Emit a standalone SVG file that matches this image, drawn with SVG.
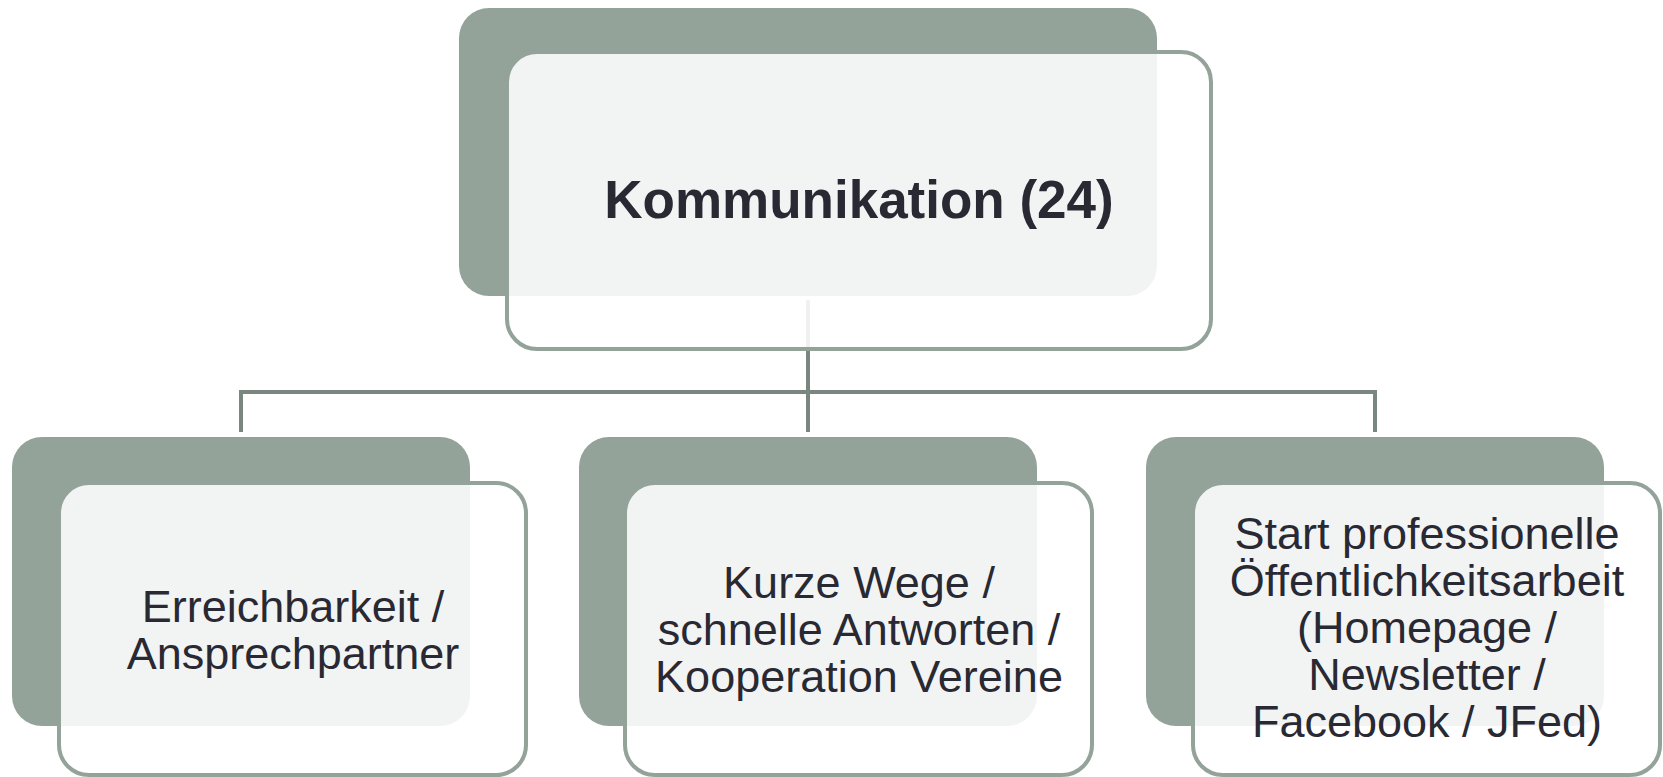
<svg xmlns="http://www.w3.org/2000/svg" width="1663" height="777" viewBox="0 0 1663 777">
<style>
.back{fill:#93A399;}
.front{fill:#FFFFFF;fill-opacity:0.88;stroke:#93A399;stroke-width:4;}
.conn{fill:none;stroke:#7A8680;stroke-width:4;}
.t{font-family:"Liberation Sans",Arial,sans-serif;fill:#292934;text-anchor:middle;}
.title{font-size:53px;font-weight:bold;}
.sub{font-size:45px;}
</style>
<rect width="1663" height="777" fill="#FFFFFF"/>
<g id="connectors">
<path class="conn" d="M808,300 V392 M241,432 V392 H1375 V432 M808,392 V432"/>
</g>
<g id="node-root">
<rect class="back" x="459" y="8" width="698" height="288" rx="30"/>
<rect class="front" x="507" y="52" width="704" height="297" rx="30"/>
<text class="t title" x="859" y="218">Kommunikation (24)</text>
</g>
<g id="node-erreichbarkeit">
<rect class="back" x="12" y="437" width="458" height="289" rx="30"/>
<rect class="front" x="59" y="483" width="467" height="292" rx="30"/>
<text class="t sub" x="293" y="622">Erreichbarkeit /</text>
<text class="t sub" x="293" y="669">Ansprechpartner</text>
</g>
<g id="node-kurze-wege">
<rect class="back" x="579" y="437" width="458" height="289" rx="30"/>
<rect class="front" x="625" y="483" width="467" height="292" rx="30"/>
<text class="t sub" x="859" y="598">Kurze Wege /</text>
<text class="t sub" x="859" y="645">schnelle Antworten /</text>
<text class="t sub" x="859" y="692">Kooperation Vereine</text>
</g>
<g id="node-oeffentlichkeit">
<rect class="back" x="1146" y="437" width="458" height="289" rx="30"/>
<rect class="front" x="1193" y="483" width="467" height="292" rx="30"/>
<text class="t sub" x="1427" y="549">Start professionelle</text>
<text class="t sub" x="1427" y="596">Öffentlichkeitsarbeit</text>
<text class="t sub" x="1427" y="643">(Homepage /</text>
<text class="t sub" x="1427" y="690">Newsletter /</text>
<text class="t sub" x="1427" y="737">Facebook / JFed)</text>
</g>
</svg>
